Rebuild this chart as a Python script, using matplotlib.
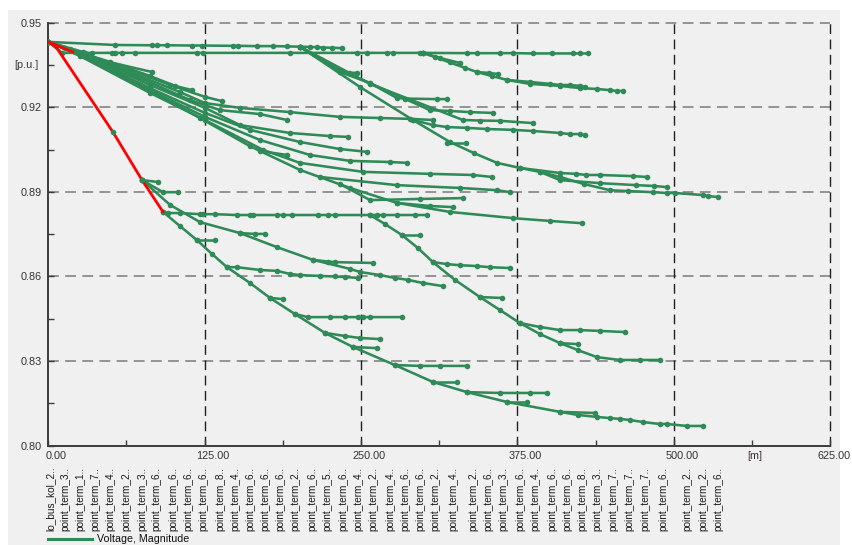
import matplotlib
matplotlib.use("Agg")
import matplotlib.pyplot as plt
from matplotlib import transforms
from matplotlib.lines import Line2D
from matplotlib.patches import Rectangle

plt.rcParams["font.family"] = ["Liberation Sans", "DejaVu Sans"]

GREEN = "#2e8b57"
RED = "#ff0000"
PANEL = "#f0f0f0"

# ---- voltage profile data: distance from lo_bus_kol [m], voltage [p.u.] ----

# highlighted route (drawn in red)
red_route = [
    ([0, 6.2, 51.7, 74.9, 91.7], [0.9432, 0.9414, 0.9112, 0.8942, 0.8829]),
    ([0, 19.7], [0.9432, 0.9396]),
]

# two long upper feeders
feeder_top = [
    ([0, 53.3, 82.9, 86.8, 94.8, 114.8, 122.8, 147.6, 151.6, 166.8, 179.5, 190.7,
      201.1, 209.1, 214.7, 219.5, 226.7, 234.7],
     [0.9432, 0.9421, 0.9420, 0.9420, 0.9420, 0.9419, 0.9419, 0.9418, 0.9418, 0.9417,
      0.9417, 0.9416, 0.9415, 0.9414, 0.9413, 0.9412, 0.9411, 0.9410]),
    ([0, 10.9, 29.3, 34.9, 50.9, 53.3, 58.9, 69.3, 118.8, 123.6, 193.1, 246.7, 254.7,
      270.7, 275.5, 297.0, 299.4, 334.6, 342.6, 361.0, 371.4, 387.3, 402.5, 419.3,
      424.9, 431.3],
     [0.9432, 0.9393, 0.9393, 0.9393, 0.9393, 0.9393, 0.9393, 0.9393, 0.9393, 0.9393,
      0.9393, 0.9393, 0.9393, 0.9393, 0.9393, 0.9393, 0.9393, 0.9392, 0.9392, 0.9392,
      0.9392, 0.9391, 0.9391, 0.9391, 0.9391, 0.9391]),
]

# branch leaving the 0.939 feeder near 300 m
feeder_c = [
    ([299.4, 309.0, 320.9, 333.0, 342.6, 354.6, 366.6, 384.9, 408.9, 424.9, 438.5,
      448.8, 454.4, 459.2],
     [0.9393, 0.9378, 0.9359, 0.9340, 0.9325, 0.9311, 0.9297, 0.9283, 0.9276, 0.9268,
      0.9265, 0.9261, 0.9258, 0.9258]),
    ([366.6, 384.9, 400.9, 408.9, 416.9, 424.9, 428.9],
     [0.9297, 0.9290, 0.9283, 0.9279, 0.9279, 0.9276, 0.9272]),
    ([299.4, 313.0, 329.0], [0.9393, 0.9375, 0.9357]),
    ([342.6, 352.0, 359.4], [0.9325, 0.9322, 0.9318]),
]

# branches leaving the 0.942 feeder near 200 m
feeder_d = [
    ([201.1, 233.1, 240.0, 246.7], [0.9415, 0.9325, 0.9323, 0.9322]),
    ([201.1, 233.1, 257.1, 278.6, 285.0, 310.6, 318.6],
     [0.9415, 0.9325, 0.9286, 0.9233, 0.9231, 0.9229, 0.9229]),
    ([201.1, 233.1, 257.1, 305.0, 321.0, 337.0, 355.4],
     [0.9415, 0.9332, 0.9286, 0.9190, 0.9187, 0.9183, 0.9180]),
    ([201.1, 257.1, 331.4, 345.0, 361.0, 387.3],
     [0.9415, 0.9283, 0.9155, 0.9153, 0.9152, 0.9144]),
    ([201.1, 249.1, 291.4, 307.4, 318.6, 334.6, 350.6, 371.4, 387.3, 408.9, 416.9,
      424.9, 428.9],
     [0.9415, 0.9272, 0.9155, 0.9137, 0.9130, 0.9127, 0.9123, 0.9120, 0.9116, 0.9109,
      0.9105, 0.9105, 0.9102]),
    ([318.6, 333.8], [0.9073, 0.9073]),
    ([291.4, 321.0, 340.0, 358.6, 376.9, 392.9, 408.9, 428.0, 448.8, 463.2, 483.3,
      494.4, 500.8, 523.1, 527.1, 535.1],
     [0.9155, 0.9077, 0.9038, 0.9003, 0.8985, 0.8971, 0.8953, 0.8928, 0.8906, 0.8903,
      0.8899, 0.8896, 0.8896, 0.8889, 0.8885, 0.8882]),
    ([376.9, 408.9, 422.0, 430.0, 440.9, 467.0, 478.4],
     [0.8985, 0.8967, 0.8964, 0.8960, 0.8960, 0.8956, 0.8953]),
    ([392.9, 408.9, 440.9, 470.0, 484.0, 494.4],
     [0.8971, 0.8942, 0.8931, 0.8924, 0.8921, 0.8917]),
]

# fan of feeders from the busbar
feeder_fan = [
    ([0, 41.3, 83.0], [0.9432, 0.9368, 0.9325]),
    ([0, 13.3, 49.3, 81.3, 101.2, 114.8], [0.9432, 0.9410, 0.9361, 0.9311, 0.9276, 0.9261]),
    ([0, 17.3, 57.3, 97.3, 125.2, 138.8], [0.9432, 0.9407, 0.9346, 0.9279, 0.9237, 0.9222]),
    ([0, 17.3, 65.3, 105.2, 125.2, 153.2, 193.1, 233.1, 265.1, 289.0, 307.4],
     [0.9432, 0.9403, 0.9325, 0.9254, 0.9215, 0.9198, 0.9183, 0.9166, 0.9162, 0.9159, 0.9155]),
    ([0, 21.3, 73.3, 113.2, 137.2, 169.2, 190.7],
     [0.9432, 0.9400, 0.9304, 0.9226, 0.9190, 0.9176, 0.9155]),
    ([0, 25.3, 81.3, 125.2, 153.2, 193.1, 225.1, 239.5],
     [0.9432, 0.9393, 0.9279, 0.9198, 0.9137, 0.9109, 0.9098, 0.9095]),
    ([0, 25.3, 81.3, 125.2, 161.2, 201.1, 233.1, 254.7],
     [0.9432, 0.9389, 0.9268, 0.9180, 0.9120, 0.9077, 0.9052, 0.9042]),
    ([0, 25.3, 81.3, 125.2, 169.2, 209.1, 241.1, 273.1, 286.6],
     [0.9432, 0.9385, 0.9261, 0.9166, 0.9084, 0.9031, 0.9010, 0.9006, 0.9003]),
    ([0, 25.3, 81.3, 125.2, 171.6, 201.1, 251.5, 305.0, 339.4, 354.6],
     [0.9432, 0.9382, 0.9251, 0.9155, 0.9049, 0.9003, 0.8971, 0.8964, 0.8960, 0.8953]),
    ([0, 27.7, 73.3, 121.2, 161.2, 201.1, 241.1, 278.6, 321.0, 371.4, 400.9, 426.5],
     [0.9432, 0.9396, 0.9279, 0.9162, 0.9062, 0.8978, 0.8914, 0.8861, 0.8829, 0.8807,
      0.8797, 0.8789]),
    ([278.6, 305.0, 323.5], [0.8861, 0.8850, 0.8846]),
    ([169.2, 190.7], [0.9045, 0.9031]),
    ([233.1, 257.1, 297.0, 331.4], [0.8928, 0.8871, 0.8875, 0.8878]),
    ([217.1, 278.6, 329.0, 358.6, 369.0], [0.8953, 0.8924, 0.8914, 0.8906, 0.8899]),
]

# feeders fed from the end of the highlighted route
feeder_h = [
    ([91.7, 95.6, 105.2, 121.2, 123.6, 133.2, 150.8, 161.2, 163.6, 182.8, 187.5, 194.7,
      215.5, 223.5, 229.1, 257.1, 262.7, 267.5, 278.6, 293.0, 302.6],
     [0.8829, 0.8825, 0.8825, 0.8821, 0.8821, 0.8821, 0.8818, 0.8818, 0.8818, 0.8818,
      0.8818, 0.8818, 0.8818, 0.8818, 0.8818, 0.8818, 0.8818, 0.8818, 0.8818, 0.8818,
      0.8818]),
    ([257.1, 269.1, 282.6, 295.4, 307.4, 325.0, 345.0, 361.0, 376.9, 392.9, 408.9,
      423.3, 438.5, 456.8, 472.8, 488.8],
     [0.8818, 0.8786, 0.8747, 0.8701, 0.8651, 0.8588, 0.8527, 0.8481, 0.8435, 0.8396,
      0.8364, 0.8339, 0.8314, 0.8304, 0.8304, 0.8304]),
    ([282.6, 297.0], [0.8747, 0.8747]),
    ([307.4, 318.6, 329.0, 342.6, 353.0, 369.0], [0.8651, 0.8644, 0.8640, 0.8637, 0.8633, 0.8630]),
    ([345.0, 362.6], [0.8527, 0.8524]),
    ([376.9, 392.9, 408.9, 424.9, 440.9, 460.8], [0.8435, 0.8421, 0.8410, 0.8410, 0.8407, 0.8403]),
    ([408.9, 423.3], [0.8364, 0.8360]),
]

feeder_m = [
    ([74.9, 97.3, 121.2, 153.2, 182.8, 211.5, 241.1, 249.1, 265.1, 277.0, 287.4, 299.4, 315.4],
     [0.8942, 0.8854, 0.8793, 0.8754, 0.8704, 0.8659, 0.8627, 0.8616, 0.8605, 0.8595,
      0.8588, 0.8577, 0.8566]),
    ([153.2, 165.2, 173.2], [0.8754, 0.8751, 0.8751]),
    ([211.5, 223.5, 229.1, 259.5], [0.8659, 0.8653, 0.8651, 0.8648]),
    ([74.9, 87.7], [0.8942, 0.8935]),
    ([74.9, 91.7, 103.6], [0.8942, 0.8899, 0.8899]),
]

feeder_bottom = [
    ([91.7, 105.2, 118.8, 130.8, 142.8, 161.2, 177.2, 197.1, 221.1, 243.5, 277.0, 307.4,
      334.6, 366.6, 408.9, 423.3, 438.5, 448.8, 456.8, 464.9, 475.2, 488.8, 494.4,
      510.4, 523.1],
     [0.8829, 0.8779, 0.8729, 0.8680, 0.8633, 0.8577, 0.8524, 0.8467, 0.8400, 0.8350,
      0.8286, 0.8226, 0.8190, 0.8155, 0.8120, 0.8109, 0.8102, 0.8098, 0.8095, 0.8091,
      0.8084, 0.8077, 0.8077, 0.8070, 0.8070]),
    ([142.8, 150.8, 169.2, 182.8, 193.1, 201.1, 217.1, 229.1, 237.1, 247.5],
     [0.8633, 0.8633, 0.8623, 0.8620, 0.8609, 0.8605, 0.8602, 0.8600, 0.8598, 0.8595]),
    ([118.8, 133.2], [0.8729, 0.8729]),
    ([177.2, 187.5], [0.8524, 0.8520]),
    ([197.1, 207.5, 225.1, 237.1, 247.5, 251.5, 257.1, 282.6],
     [0.8467, 0.8456, 0.8456, 0.8456, 0.8456, 0.8456, 0.8456, 0.8456]),
    ([221.1, 237.1, 249.1, 265.1], [0.8400, 0.8389, 0.8382, 0.8378]),
    ([243.5, 262.7], [0.8350, 0.8346]),
    ([277.0, 297.0, 313.0, 334.6], [0.8286, 0.8283, 0.8283, 0.8283]),
    ([307.4, 326.6], [0.8226, 0.8226]),
    ([334.6, 361.0, 384.9, 398.5], [0.8190, 0.8187, 0.8187, 0.8187]),
    ([366.6, 382.5], [0.8155, 0.8155]),
    ([408.9, 436.9], [0.8120, 0.8116]),
]

# terminal names along the distance axis
term_x = [1.4, 13.3, 25.3, 37.3, 49.3, 62.1, 74.9, 86.8, 99.6, 111.6, 123.6, 137.2, 149.2,
          161.2, 173.2, 185.2, 197.2, 210.8, 222.8, 235.5, 247.5, 259.5, 273.1, 285.1,
          297.1, 309.1, 323.5, 339.4, 351.4, 363.4, 377.0, 389.0, 402.6, 414.6, 426.6,
          438.5, 451.3, 464.1, 476.9, 491.3, 510.5, 523.3, 535.2]
term_names = ["lo_bus_kol_2..", "point_term_3..", "point_term_1..", "point_term_7..",
              "point_term_4..", "point_term_2..", "point_term_3..", "point_term_6..",
              "point_term_6..", "point_term_6..", "point_term_6..", "point_term_8..",
              "point_term_4..", "point_term_6..", "point_term_6..", "point_term_6..",
              "point_term_2..", "point_term_6..", "point_term_5..", "point_term_6..",
              "point_term_4..", "point_term_2..", "point_term_4..", "point_term_6..",
              "point_term_6..", "point_term_2..", "point_term_4..", "point_term_2..",
              "point_term_6..", "point_term_3..", "point_term_6..", "point_term_4..",
              "point_term_6..", "point_term_6..", "point_term_8..", "point_term_3..",
              "point_term_7..", "point_term_7..", "point_term_7..", "point_term_6..",
              "point_term_2..", "point_term_2..", "point_term_6.."]

y_ticks = [0.80, 0.83, 0.86, 0.89, 0.92, 0.95]
y_minor = [0.815, 0.845, 0.875, 0.905, 0.935]
x_ticks = [0, 125, 250, 375, 500, 625]
x_minor = [62.5, 187.5, 312.5, 437.5, 562.5]
x_tick_text = ["0.00", "125.00", "250.00", "375.00", "500.00", "625.00"]

# ---- figure ----
W, H = 853, 545
fig = plt.figure(figsize=(W / 100, H / 100), dpi=100)
fig.patch.set_facecolor("white")
fig.add_artist(Rectangle((8 / W, 0), 832 / W, 535 / H, transform=fig.transFigure,
                         facecolor=PANEL, edgecolor="none", zorder=-10))

ax = fig.add_axes([48.3 / W, 99.3 / H, 782 / W, 423 / H])
ax.set_facecolor(PANEL)
ax.set_xlim(0, 625)
ax.set_ylim(0.80, 0.95)

for s in ("top", "right"):
    ax.spines[s].set_visible(False)
for s in ("left", "bottom"):
    ax.spines[s].set_color("#3c3c3c")
    ax.spines[s].set_linewidth(1.4)

for yv in y_ticks[1:]:
    ax.axhline(yv, color="#8c8c8c", lw=1.3, dashes=(6, 3.5), zorder=1, clip_on=False)
for xv in x_ticks[1:]:
    ax.axvline(xv, color="#202020", lw=1.0, dashes=(7, 4), zorder=1, clip_on=False)

ax.set_yticks(y_ticks)
ax.set_yticklabels(["%.2f" % t for t in y_ticks])
ax.set_yticks(y_minor, minor=True)
ax.set_xticks(x_ticks)
ax.set_xticklabels([])
ax.set_xticks(x_minor, minor=True)
ax.tick_params(axis="both", which="both", direction="in", color="#3c3c3c", length=4, width=1)
ax.tick_params(axis="y", labelsize=7.8, labelcolor="#333333", pad=4.5)

# distance labels, shifted slightly right of their ticks; the last one is kept
# inside the canvas by aligning it to its right edge
xt = transforms.blended_transform_factory(ax.transData, ax.transAxes)
shift = transforms.ScaledTranslation(8 / 100, 0, fig.dpi_scale_trans)
for xv, txt in zip(x_ticks[:-1], x_tick_text[:-1]):
    ax.text(xv, -10 / 423, txt, transform=xt + shift, ha="center", va="center",
            fontsize=7.8, color="#333333", clip_on=False)
ax.text(x_ticks[-1], -10 / 423, x_tick_text[-1],
        transform=xt + transforms.ScaledTranslation(20 / 100, 0, fig.dpi_scale_trans),
        ha="right", va="center", fontsize=7.8, color="#333333", clip_on=False)
ax.text(562.5, -10 / 423, "[m]", transform=xt + transforms.ScaledTranslation(3 / 100, 0, fig.dpi_scale_trans),
        ha="center", va="center", fontsize=7.8, color="#3a2a2a", clip_on=False)
ax.text(-10 / 782, (0.935 - 0.80) / 0.15, "[p.u.]", transform=ax.transAxes, ha="right",
        va="center", fontsize=7.8, color="#333333")

# feeders
for group in (feeder_top, feeder_c, feeder_d, feeder_fan, feeder_h, feeder_m, feeder_bottom):
    for xs, vs in group:
        ax.plot(xs, vs, color=GREEN, lw=1.85, marker="o", ms=4.0, mew=0,
                solid_capstyle="round", zorder=3)

for xs, vs in red_route:
    ax.plot(xs, vs, color=RED, lw=2.0, solid_capstyle="round", zorder=4)
ax.plot(red_route[0][0][2:4], red_route[0][1][2:4], ls="none", marker="o", ms=4.0,
        mew=0, color=GREEN, zorder=5)

# terminal names below the axis
tt = transforms.blended_transform_factory(ax.transData, fig.transFigure)
for xv, name in zip(term_x, term_names):
    ax.text(xv, 14 / H, name, transform=tt, rotation=90, ha="center", va="bottom",
            fontsize=7.2, color="#1a1a1a", clip_on=False)

# legend
fig.add_artist(Line2D([48 / W, 92 / W], [6.5 / H, 6.5 / H], transform=fig.transFigure,
                      color=GREEN, lw=2.2))
fig.text(97 / W, 6.5 / H, "Voltage, Magnitude", ha="left", va="center", fontsize=7.7,
         color="#111111")

fig.savefig("out.png", dpi=100, facecolor=fig.get_facecolor())
